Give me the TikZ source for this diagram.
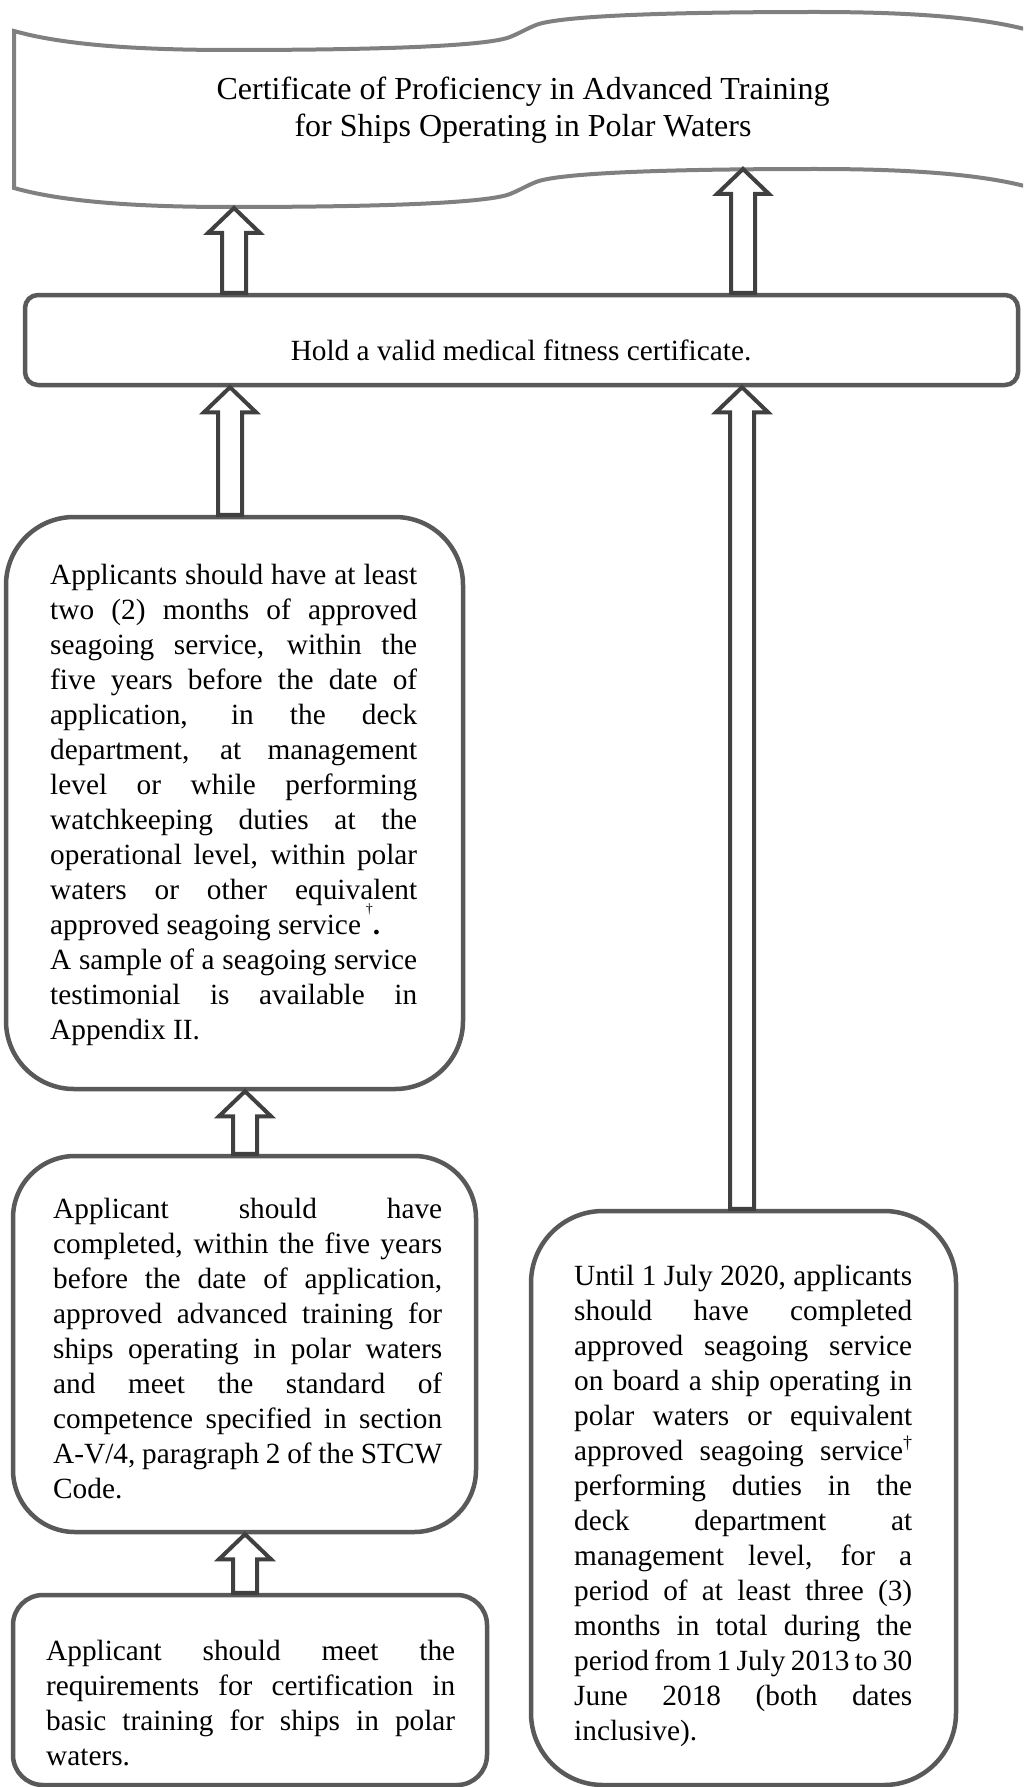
\documentclass[tikz,border=0pt]{standalone}
\usepackage{fontspec}
\setmainfont{Liberation Serif}
\usetikzlibrary{calc}
\definecolor{boxgray}{HTML}{595959}
\definecolor{arrgray}{HTML}{404040}
\definecolor{bangray}{HTML}{808080}
\newcommand{\jl}[2]{\makebox[#1][s]{#2}}
\newcommand{\blockup}[2]{%
  \draw[blockarr] let \p1=(#1), \p2=(#2) in
    (\x1-12pt,\y1) -- (\x1-12pt,\y2-25pt) -- (\x1-26pt,\y2-25pt) -- (\x1,\y2)
    -- (\x1+26pt,\y2-25pt) -- (\x1+12pt,\y2-25pt) -- (\x1+12pt,\y1) -- cycle;}
\tikzset{
  boxnode/.style={draw=boxgray, line width=4.5pt, fill=white, inner sep=0pt},
  blockarr/.style={draw=arrgray, line width=4pt, fill=white, line join=miter},
  banner/.style={draw=bangray, line width=4pt, fill=white},
  bodytxt/.style={inner sep=0pt, font=\fontsize{29.3}{35}\selectfont},
  titletxt/.style={inner sep=0pt, font=\fontsize{32}{37}\selectfont}
}
\begin{document}
\begin{tikzpicture}[x=1pt,y=-1pt]
\useasboundingbox (0,0) rectangle (1023,1787);
\fill[white] (0,0) rectangle (1023,1787);

% banner
\begin{scope}
\clip (0,0) rectangle (1023,1787);
\draw[banner] (14,31) .. controls (60,44) and (130,50) .. (230,50)
 .. controls (400,50) and (490,45) .. (510,37)
 .. controls (520,33) and (526,29) .. (536,25)
 .. controls (556,17) and (646,12) .. (816,12)
 .. controls (916,12) and (986,18) .. (1032,31)
 -- (1032,188)
 .. controls (986,175) and (916,169) .. (816,169)
 .. controls (646,169) and (556,174) .. (536,182)
 .. controls (526,186) and (520,190) .. (510,194)
 .. controls (490,202) and (400,207) .. (230,207)
 .. controls (130,207) and (60,201) .. (14,188) -- cycle;
\end{scope}
\node[titletxt, anchor=base] (title) at (523,100) {\begin{tabular}[t]{@{}c@{}}Certificate of Proficiency in Advanced Training\\for Ships Operating in Polar Waters\end{tabular}};
\coordinate (banA) at (234,208);
\coordinate (banB) at (743,169);

% boxes
\node[boxnode, rounded corners=13pt, minimum width=993pt, minimum height=90pt] (med) at (521.5,340) {};
\node[boxnode, rounded corners=68pt, minimum width=457pt, minimum height=572pt] (lbig) at (234.5,803) {};
\node[boxnode, rounded corners=62pt, minimum width=463pt, minimum height=376pt] (mid) at (244.5,1344) {};
\node[boxnode, rounded corners=30pt, minimum width=474pt, minimum height=190pt] (bot) at (250,1690) {};
\node[boxnode, rounded corners=72pt, minimum width=425pt, minimum height=574pt] (rbox) at (743.5,1498) {};

% texts
\node[bodytxt, anchor=base] (medtxt) at (521,360) {Hold a valid medical fitness certificate.};

\node[bodytxt, anchor=base west] (lbigtxt) at (50,584) {\begin{tabular}[t]{@{}l@{}}
\jl{367pt}{Applicants should have at least}\\
\jl{367pt}{two (2) months of approved}\\
\jl{367pt}{seagoing service, within the}\\
\jl{367pt}{five years before the date of}\\
\jl{367pt}{application, in the deck}\\
\jl{367pt}{department, at management}\\
\jl{367pt}{level or while performing}\\
\jl{367pt}{watchkeeping duties at the}\\
\jl{367pt}{operational level, within polar}\\
\jl{367pt}{waters or other equivalent}\\
approved seagoing service\hspace{5pt}\raisebox{21pt}[0pt][0pt]{\fontsize{14}{14}\selectfont †}\textbf{.}\\
\jl{367pt}{A sample of a seagoing service}\\
\jl{367pt}{testimonial is available in}\\
Appendix II.
\end{tabular}};

\node[bodytxt, anchor=base west] (midtxt) at (53,1218) {\begin{tabular}[t]{@{}l@{}}
\jl{389pt}{Applicant should have}\\
\jl{389pt}{completed, within the five years}\\
\jl{389pt}{before the date of application,}\\
\jl{389pt}{approved advanced training for}\\
\jl{389pt}{ships operating in polar waters}\\
\jl{389pt}{and meet the standard of}\\
\jl{389pt}{competence specified in section}\\
\jl{389pt}{A-V/4, paragraph 2 of the STCW}\\
Code.
\end{tabular}};

\node[bodytxt, anchor=base west] (bottxt) at (46,1660) {\begin{tabular}[t]{@{}l@{}}
\jl{409pt}{Applicant should meet the}\\
\jl{409pt}{requirements for certification in}\\
\jl{409pt}{basic training for ships in polar}\\
waters.
\end{tabular}};

\node[bodytxt, anchor=base west] (rtxt) at (574,1285) {\begin{tabular}[t]{@{}l@{}}
\jl{338pt}{Until 1 July 2020, applicants}\\
\jl{338pt}{should have completed}\\
\jl{338pt}{approved seagoing service}\\
\jl{338pt}{on board a ship operating in}\\
\jl{338pt}{polar waters or equivalent}\\
\jl{338pt}{approved seagoing service\raisebox{12pt}[0pt][0pt]{\fontsize{18}{18}\selectfont †}}\\
\jl{338pt}{performing duties in the}\\
\jl{338pt}{deck department at}\\
\jl{338pt}{management level, for a}\\
\jl{338pt}{period of at least three (3)}\\
\jl{338pt}{months in total during the}\\
\jl{338pt}{period from 1 July 2013 to 30}\\
\jl{338pt}{June 2018 (both dates}\\
inclusive).
\end{tabular}};

% arrows
\coordinate (xA) at (234,0);
\coordinate (xB) at (743,0);
\coordinate (xC) at (230,0);
\coordinate (xD) at (742,0);
\coordinate (xE) at (245,0);
\blockup{med.north -| xA}{banA}
\blockup{med.north -| xB}{banB}
\blockup{lbig.north -| xC}{med.south -| xC}
\blockup{rbox.north -| xD}{med.south -| xD}
\blockup{mid.north -| xE}{lbig.south -| xE}
\blockup{bot.north -| xE}{mid.south -| xE}
\end{tikzpicture}
\end{document}
